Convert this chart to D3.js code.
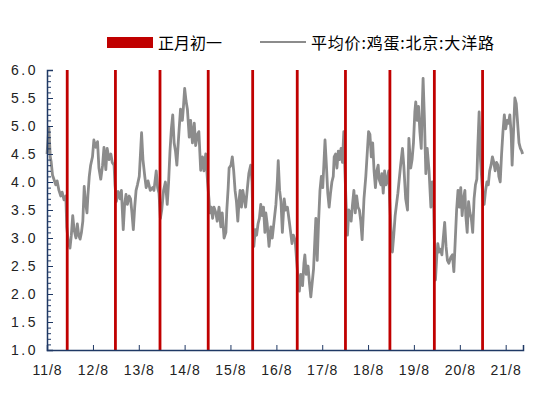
<!DOCTYPE html>
<html>
<head>
<meta charset="utf-8">
<script src="https://cdn.jsdelivr.net/npm/d3@7"></script>
<style>
  body { margin: 0; background: #fff; }
  svg text { font-family: "Liberation Sans", Arial, sans-serif; }
  .cjk { font-family: "Noto Sans CJK SC", sans-serif; }
</style>
</head>
<body>
<div id="chart"></div>
<script>
// 正月初一 (Chinese New Year) dates
const cnyDates = ["2012-01-23", "2013-02-10", "2014-01-31", "2015-02-19", "2016-02-08",
                  "2017-01-28", "2018-02-16", "2019-02-05", "2020-01-25", "2021-02-12"];

// x axis ticks (mid August each year) and labels
const tickDates = ["2011-08-15", "2012-08-15", "2013-08-15", "2014-08-15", "2015-08-15", "2016-08-15",
                   "2017-08-15", "2018-08-15", "2019-08-15", "2020-08-15", "2021-08-15"];
const tickLabels = ["11/8", "12/8", "13/8", "14/8", "15/8", "16/8", "17/8", "18/8", "19/8", "20/8", "21/8"];
const xDomain = ["2011-08-15", "2021-12-31"];

const yTicks = [1.0, 1.5, 2.0, 2.5, 3.0, 3.5, 4.0, 4.5, 5.0, 5.5, 6.0];

// 平均价:鸡蛋:北京:大洋路 — [decimal year, price]
const eggPrice = [
  [2011.62,4.5],[2011.66,4.98],[2011.69,4.45],[2011.71,4.36],[2011.74,4.12],[2011.77,4.05],[2011.81,3.95],
  [2011.84,4.02],[2011.88,3.85],[2011.92,3.75],[2011.95,3.82],[2011.99,3.68],[2012.03,3.75],[2012.05,3.2],
  [2012.08,2.95],[2012.12,2.82],[2012.15,3.05],[2012.18,3.4],[2012.21,3.15],[2012.25,3.0],[2012.28,3.25],
  [2012.31,3.05],[2012.34,2.98],[2012.37,3.1],[2012.40,3.3],[2012.43,3.92],[2012.45,3.7],[2012.49,3.45],
  [2012.51,3.75],[2012.54,4.1],[2012.57,4.3],[2012.61,4.45],[2012.64,4.75],[2012.68,4.62],[2012.72,4.72],
  [2012.75,4.25],[2012.79,4.05],[2012.83,4.3],[2012.86,4.62],[2012.90,4.22],[2012.93,4.6],[2012.97,4.4],
  [2013.01,4.5],[2013.04,4.35],[2013.08,4.3],[2013.10,3.95],[2013.13,3.65],[2013.17,3.83],[2013.21,3.7],
  [2013.24,3.85],[2013.28,3.15],[2013.31,3.6],[2013.34,3.78],[2013.37,3.6],[2013.41,3.75],[2013.44,3.7],
  [2013.47,3.45],[2013.50,3.15],[2013.53,3.55],[2013.56,3.85],[2013.59,3.95],[2013.63,4.1],[2013.68,4.88],
  [2013.71,4.4],[2013.75,4.1],[2013.78,3.9],[2013.82,4.02],[2013.87,3.85],[2013.92,3.9],[2013.95,3.85],
  [2014.00,4.2],[2014.03,3.9],[2014.06,3.8],[2014.09,3.35],[2014.12,3.5],[2014.16,3.85],[2014.20,4.0],
  [2014.24,3.6],[2014.27,4.0],[2014.30,4.55],[2014.33,4.95],[2014.36,5.2],[2014.39,4.7],[2014.42,4.55],
  [2014.45,4.3],[2014.48,4.7],[2014.50,4.95],[2014.53,5.3],[2014.57,5.1],[2014.59,5.3],[2014.62,5.67],
  [2014.65,5.45],[2014.68,5.3],[2014.72,4.8],[2014.75,5.1],[2014.79,4.7],[2014.83,5.05],[2014.86,4.65],
  [2014.90,4.85],[2014.93,4.9],[2014.97,4.21],[2015.01,4.45],[2015.04,4.2],[2015.08,4.5],[2015.12,4.0],
  [2015.15,3.7],[2015.17,3.45],[2015.20,3.55],[2015.23,3.35],[2015.26,3.55],[2015.30,3.45],[2015.33,3.3],
  [2015.37,3.55],[2015.41,3.2],[2015.44,3.45],[2015.48,3.0],[2015.52,3.1],[2015.54,3.5],[2015.57,3.9],
  [2015.59,4.25],[2015.63,4.3],[2015.66,4.45],[2015.69,4.2],[2015.72,3.85],[2015.75,3.65],[2015.78,3.3],
  [2015.81,3.7],[2015.83,3.85],[2015.86,3.55],[2015.89,3.85],[2015.92,3.7],[2015.95,3.55],[2015.99,3.9],
  [2016.02,4.15],[2016.06,4.3],[2016.09,4.0],[2016.11,3.2],[2016.13,2.85],[2016.16,3.15],[2016.19,3.05],
  [2016.22,3.25],[2016.25,3.35],[2016.28,3.6],[2016.31,3.4],[2016.34,3.55],[2016.37,3.1],[2016.39,3.45],
  [2016.42,3.25],[2016.46,2.85],[2016.50,3.2],[2016.53,3.0],[2016.57,3.3],[2016.61,3.6],[2016.64,4.0],
  [2016.66,4.38],[2016.69,3.85],[2016.72,3.65],[2016.75,3.1],[2016.79,3.7],[2016.82,3.5],[2016.86,3.55],
  [2016.90,3.3],[2016.93,3.1],[2016.96,2.9],[2016.99,3.05],[2017.03,2.95],[2017.06,2.6],[2017.09,2.3],
  [2017.12,2.05],[2017.15,2.35],[2017.19,2.15],[2017.22,2.55],[2017.24,2.7],[2017.27,2.35],[2017.31,2.5],
  [2017.34,2.2],[2017.37,1.95],[2017.40,2.2],[2017.43,2.45],[2017.46,3.0],[2017.48,3.35],[2017.51,2.6],
  [2017.54,3.3],[2017.57,3.85],[2017.60,4.1],[2017.63,3.9],[2017.66,4.4],[2017.68,4.75],[2017.71,4.3],
  [2017.74,3.8],[2017.77,3.55],[2017.80,3.8],[2017.83,4.0],[2017.86,4.1],[2017.88,4.45],[2017.91,4.5],
  [2017.94,4.25],[2017.97,4.55],[2018.00,4.4],[2018.03,4.6],[2018.06,4.35],[2018.09,4.9],[2018.11,4.3],
  [2018.14,3.6],[2018.17,3.05],[2018.20,3.5],[2018.23,3.45],[2018.25,3.3],[2018.28,3.6],[2018.31,3.85],
  [2018.34,3.45],[2018.37,3.75],[2018.40,3.55],[2018.43,3.5],[2018.46,3.3],[2018.49,2.97],[2018.53,3.7],
  [2018.57,4.1],[2018.60,4.5],[2018.63,4.9],[2018.66,4.85],[2018.69,4.45],[2018.72,4.7],[2018.75,4.2],
  [2018.78,3.9],[2018.81,4.2],[2018.84,4.3],[2018.86,4.05],[2018.90,3.95],[2018.92,4.15],[2018.95,3.8],
  [2018.98,4.2],[2019.01,3.95],[2019.04,4.05],[2019.07,4.2],[2019.09,3.7],[2019.12,3.15],[2019.15,2.75],
  [2019.18,3.05],[2019.21,3.4],[2019.24,3.6],[2019.27,3.8],[2019.30,4.05],[2019.33,4.3],[2019.37,4.6],
  [2019.40,4.28],[2019.44,3.7],[2019.48,3.5],[2019.51,4.78],[2019.55,4.25],[2019.58,4.4],[2019.61,4.7],
  [2019.64,5.25],[2019.66,5.43],[2019.69,5.1],[2019.72,5.35],[2019.75,4.9],[2019.78,4.6],[2019.80,5.3],
  [2019.82,5.85],[2019.85,5.1],[2019.88,4.15],[2019.91,4.6],[2019.95,4.2],[2019.99,3.55],[2020.02,4.0],
  [2020.05,3.6],[2020.07,2.82],[2020.09,2.25],[2020.12,2.7],[2020.14,2.9],[2020.17,2.75],[2020.20,2.8],
  [2020.23,2.7],[2020.26,3.0],[2020.29,3.28],[2020.32,2.85],[2020.35,2.6],[2020.38,2.55],[2020.42,2.65],
  [2020.46,2.7],[2020.49,2.4],[2020.52,2.95],[2020.55,3.5],[2020.58,3.85],[2020.61,3.55],[2020.64,3.9],
  [2020.67,3.4],[2020.70,3.7],[2020.73,3.85],[2020.75,3.4],[2020.78,3.1],[2020.81,3.65],[2020.84,3.45],
  [2020.87,3.35],[2020.90,3.1],[2020.93,3.7],[2020.96,3.95],[2020.99,4.05],[2021.01,4.6],[2021.04,5.25],
  [2021.07,4.4],[2021.10,4.0],[2021.13,3.65],[2021.15,3.6],[2021.18,3.85],[2021.21,4.0],[2021.24,3.95],
  [2021.27,4.2],[2021.30,4.3],[2021.33,4.45],[2021.36,4.35],[2021.39,4.2],[2021.42,4.35],[2021.45,4.3],
  [2021.47,4.1],[2021.50,4.0],[2021.53,4.5],[2021.56,4.9],[2021.59,5.2],[2021.62,4.95],[2021.65,5.1],
  [2021.68,5.05],[2021.71,5.2],[2021.74,4.85],[2021.76,4.3],[2021.79,4.9],[2021.82,5.5],[2021.85,5.4],
  [2021.88,5.05],[2021.91,4.7],[2021.94,4.6],[2021.97,4.55],[2021.99,4.5]
];

const width = 550, height = 395;
const margin = {top: 70, right: 27, bottom: 45, left: 47};
const innerW = width - margin.left - margin.right;
const innerH = height - margin.top - margin.bottom;
const axisColor = "#1f3864";
const red = "#c00000";
const grey = "#8c8c8c";

const parse = d3.utcParse("%Y-%m-%d");
// decimal year -> Date
function yearToDate(t) {
    const y = Math.floor(t);
    const s = Date.UTC(y, 0, 1), e = Date.UTC(y + 1, 0, 1);
    return new Date(s + (t - y) * (e - s));
}

const svg = d3.select("#chart").append("svg")
    .attr("width", width)
    .attr("height", height);

const g = svg.append("g")
    .attr("transform", "translate(" + margin.left + "," + margin.top + ")");

const x = d3.scaleUtc().domain(xDomain.map(parse)).range([0, innerW]);
const y = d3.scaleLinear().domain([1, 6]).range([innerH, 0]);

// egg price line
const line = d3.line()
    .x(d => x(yearToDate(d[0])))
    .y(d => y(d[1]));

g.append("path")
    .datum(eggPrice)
    .attr("fill", "none")
    .attr("stroke", grey)
    .attr("stroke-width", 2.8)
    .attr("stroke-linejoin", "round")
    .attr("d", line);

// new year bars
g.selectAll(".cny")
    .data(cnyDates)
    .join("line")
    .attr("class", "cny")
    .attr("x1", d => x(parse(d)))
    .attr("x2", d => x(parse(d)))
    .attr("y1", y(6))
    .attr("y2", y(1))
    .attr("stroke", red)
    .attr("stroke-width", 2.8);

// y axis: minor + major ticks pointing inward
const minorTicks = d3.range(10, 61).map(v => v / 10);
g.append("g")
    .attr("class", "yMinor")
    .call(d3.axisLeft(y).tickValues(minorTicks).tickSize(-4).tickFormat(""))
    .call(a => a.select(".domain").remove())
    .call(a => a.selectAll("line").attr("stroke", axisColor));

const yAxisG = g.append("g")
    .attr("class", "yAxisG")
    .call(d3.axisLeft(y).tickValues(yTicks).tickSize(-6).tickPadding(9).tickFormat(d3.format(".1f")));
yAxisG.select(".domain").attr("stroke", axisColor).attr("stroke-width", 1.5);
yAxisG.selectAll("line").attr("stroke", axisColor);
yAxisG.selectAll("text")
    .attr("fill", "#222")
    .style("font-size", "14px")
    .style("letter-spacing", "2.5px");

// x axis
const xAxisG = g.append("g")
    .attr("class", "xAxisG")
    .attr("transform", "translate(0," + innerH + ")")
    .call(d3.axisBottom(x).tickValues(tickDates.map(parse)).tickSize(-5).tickPadding(15)
        .tickFormat((d, i) => tickLabels[i]));
xAxisG.select(".domain").attr("stroke", axisColor).attr("stroke-width", 1.5);
xAxisG.selectAll("line").attr("stroke", axisColor);
xAxisG.selectAll("text")
    .attr("fill", "#222")
    .style("font-size", "14px")
    .style("letter-spacing", "1px");

// legend
const legend = svg.append("g").attr("class", "legend");
legend.append("rect")
    .attr("x", 107).attr("y", 37)
    .attr("width", 46).attr("height", 11)
    .attr("fill", red);
legend.append("text")
    .attr("class", "cjk")
    .attr("x", 158).attr("y", 42)
    .attr("dominant-baseline", "central")
    .style("font-size", "16px")
    .text("正月初一");
legend.append("line")
    .attr("x1", 260).attr("x2", 306)
    .attr("y1", 42).attr("y2", 42)
    .attr("stroke", grey)
    .attr("stroke-width", 2);
legend.append("text")
    .attr("class", "cjk")
    .attr("x", 311).attr("y", 42)
    .attr("dominant-baseline", "central")
    .style("font-size", "16px")
    .style("letter-spacing", "0.8px")
    .text("平均价:鸡蛋:北京:大洋路");
</script>
</body>
</html>
